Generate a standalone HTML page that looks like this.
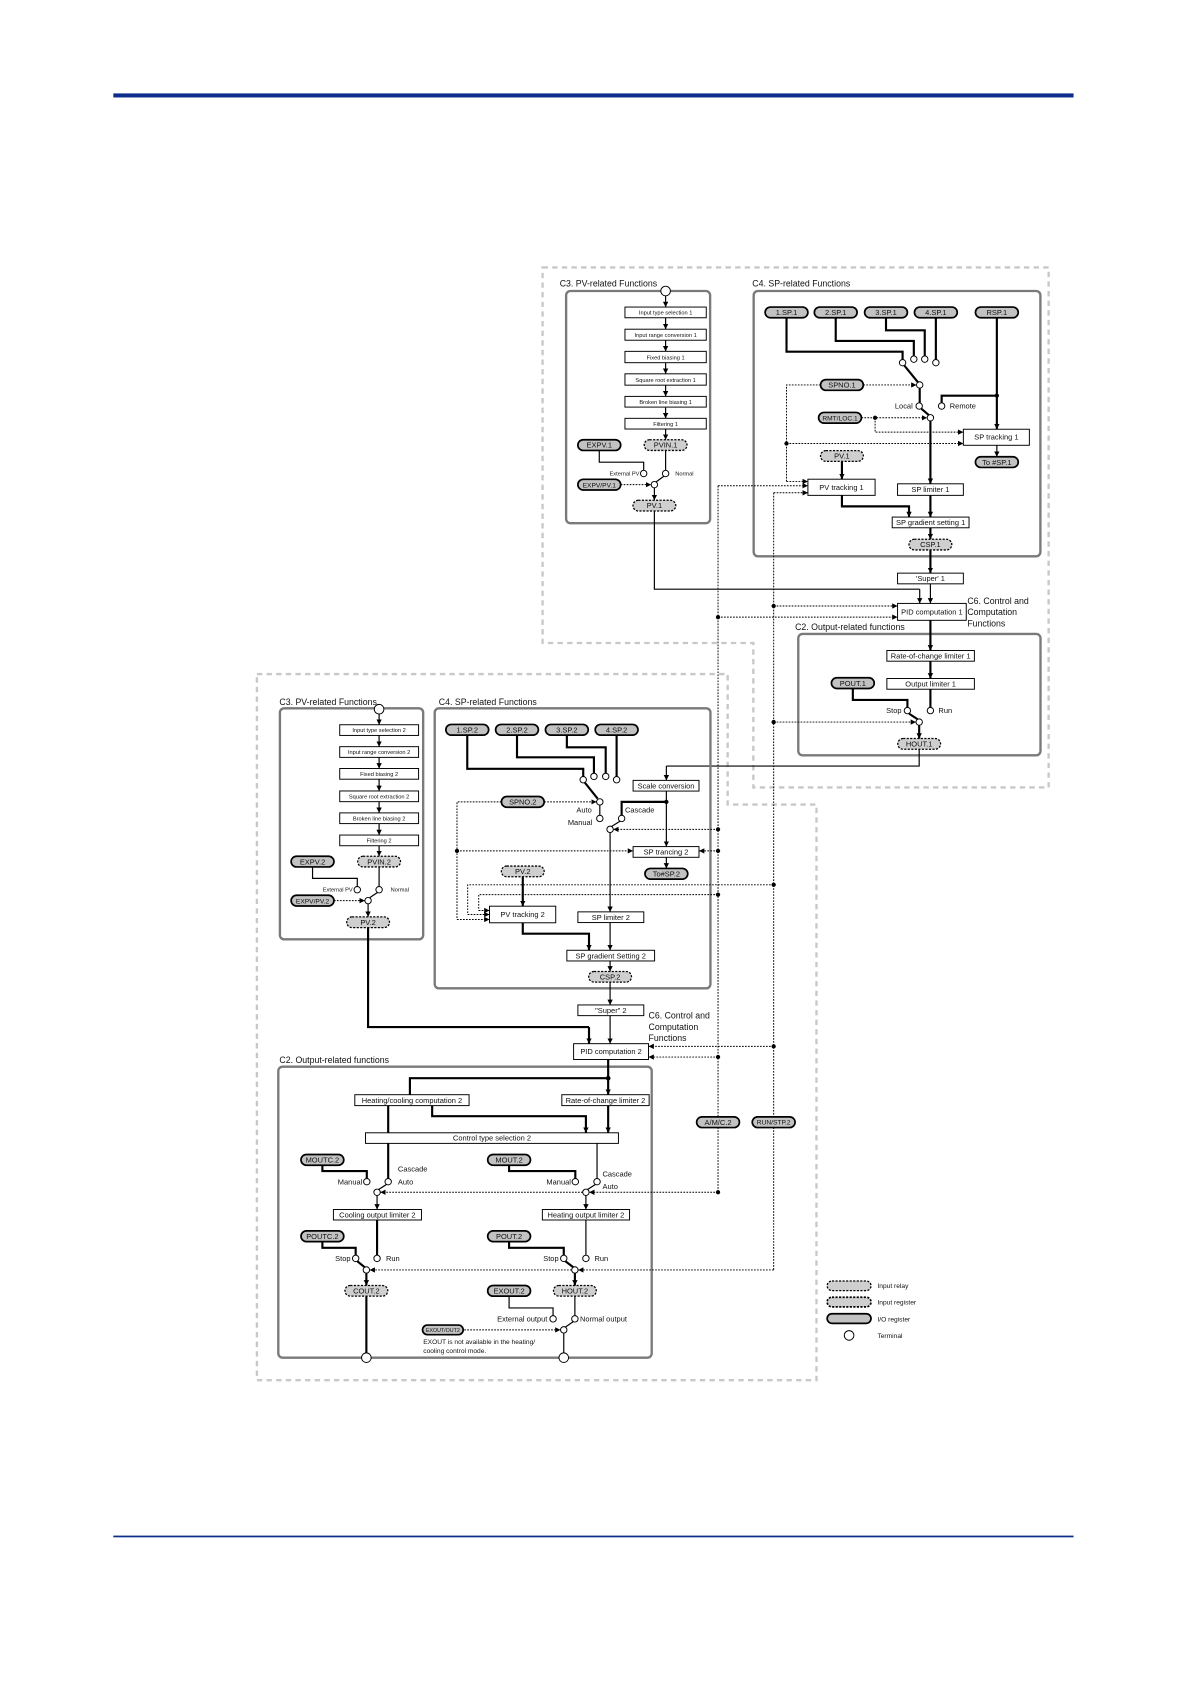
<!DOCTYPE html>
<html><head><meta charset="utf-8"><style>
html,body{margin:0;padding:0;background:#fff;}
svg{display:block;}
text{font-family:"Liberation Sans",sans-serif;fill:#111;}
.t{fill:none;stroke:#000;stroke-width:2;}
.n{fill:none;stroke:#000;stroke-width:1.1;}
.d{fill:none;stroke:#000;stroke-width:0.9;stroke-dasharray:1.6 1.2;}
.ar{marker-end:url(#a);}
.bx{fill:#fff;stroke:#000;stroke-width:0.9;}
.grp{fill:none;stroke:#7a7a7a;stroke-width:2.2;}
.out{fill:none;stroke:#c8c8c8;stroke-width:2.2;stroke-dasharray:5 4;}
.p{fill:#c2c2c2;stroke:#000;stroke-width:1.6;}
.pd{fill:#cfcfcf;stroke:#000;stroke-width:1.2;stroke-dasharray:2 1.3;}
.c{fill:#fff;stroke:#000;stroke-width:0.9;}
.s5{font-size:5.3px;}
.s6{font-size:6.2px;}
.s7{font-size:7px;}
.s8{font-size:8.2px;}
.m{text-anchor:middle;}
.e{text-anchor:end;}
</style></head><body>
<svg width="1190" height="1684" viewBox="0 0 1112 1574" xmlns="http://www.w3.org/2000/svg">
<defs>
<marker id="a" viewBox="0 0 10 10" refX="10" refY="5" markerWidth="5" markerHeight="5" markerUnits="userSpaceOnUse" orient="auto"><path d="M0,0 L10,5 L0,10z" fill="#000"/></marker>
</defs>
<rect x="105.8" y="87.3" width="897.5" height="3.8" fill="#0c2d8c"/>
<rect x="105.8" y="1435.3" width="897.5" height="1.6" fill="#0c2d8c"/>

<!-- outer dashed groups -->
<path class="out" d="M507,250 H980 V736 H704 V601 H507 Z"/>
<path class="out" d="M240,630 H680 V752 H763 V1290 H240 Z"/>

<!-- ===== TOP C3 ===== -->
<text class="s8" x="523" y="268">C3. PV-related Functions</text>
<rect class="grp" x="529" y="272" width="134.6" height="217" rx="4"/>
<g class="n ar">
<path d="M622,276.5V287"/><path d="M622,297V307.7"/><path d="M622,318V328.4"/><path d="M622,339V349.4"/><path d="M622,360V370.5"/><path d="M622,381V391"/><path d="M622,401V411"/>
</g>
<circle class="c" cx="622" cy="272" r="4.5"/>
<rect class="bx" x="584" y="287" width="76" height="10"/><text class="s5 m" x="622" y="294">Input type selection 1</text>
<rect class="bx" x="584" y="307.7" width="76" height="10.3"/><text class="s5 m" x="622" y="315">Input range conversion 1</text>
<rect class="bx" x="584" y="328.4" width="76" height="10.6"/><text class="s5 m" x="622" y="336">Fixed biasing 1</text>
<rect class="bx" x="584" y="349.4" width="76" height="10.6"/><text class="s5 m" x="622" y="357">Square root extraction 1</text>
<rect class="bx" x="584" y="370.5" width="76" height="10"/><text class="s5 m" x="622" y="377.5">Broken line biasing 1</text>
<rect class="bx" x="584" y="391" width="76" height="10"/><text class="s5 m" x="622" y="398">Filtering 1</text>
<path class="n" d="M622,421V439.6"/>
<path class="n" d="M560,421V432H601.5V439.6"/>
<path class="n" d="M613,450.5L620.5,445"/>
<path class="d ar" d="M580,453H608.5"/>
<path class="n ar" d="M611.5,456V467.6"/>
<path class="n" d="M611.5,477.6V550.7H859.5"/>
<path class="n ar" d="M859.5,550.7V564"/>
<rect class="pd" x="602" y="411" width="40" height="10" rx="5"/><text class="s7 m" x="622" y="418.5">PVIN.1</text>
<rect class="p" x="540" y="411" width="40" height="10" rx="5"/><text class="s7 m" x="560" y="418.5">EXPV.1</text>
<rect class="p" x="540" y="448" width="40" height="10" rx="5"/><text class="s6 m" x="560" y="455.5">EXPV/PV.1</text>
<rect class="pd" x="591.5" y="467.6" width="40" height="10" rx="5"/><text class="s7 m" x="611.5" y="475">PV.1</text>
<circle class="c" cx="601.5" cy="442.6" r="3"/><circle class="c" cx="622" cy="442.6" r="3"/><circle class="c" cx="611.5" cy="453" r="3"/>
<text class="s5 e" x="597.5" y="444.5">External PV</text>
<text class="s5" x="631" y="444.5">Normal</text>

<!-- ===== TOP C4 ===== -->
<text class="s8" x="703" y="268">C4. SP-related Functions</text>
<rect class="grp" x="704.3" y="272" width="268" height="248" rx="4"/>
<path class="t" d="M735,297V328.7H843.5V336"/>
<path class="t" d="M781,297V318.7H854V332.7"/>
<path class="t" d="M828,297V308.7H864.2V332.7"/>
<path class="t" d="M874.6,297V336"/>
<path class="t" d="M845,341.5L858,357.5"/>
<path class="d ar" d="M806.8,359.8H856.5"/>
<path class="d" d="M766.8,359.8H735V450"/>
<path class="d ar" d="M735,450H755"/>
<path class="t" d="M859.5,362.8V376.5"/>
<path class="t" d="M931.6,297V369.8H880V376.5"/>
<path class="t ar" d="M931.6,369.8V401.2"/>
<circle cx="931.6" cy="369.8" r="2"/>
<path class="t" d="M861,382L868,388"/>
<path class="d ar" d="M805,390.5H866.5"/>
<circle cx="817.8" cy="390.5" r="2"/>
<path class="d ar" d="M817.8,390.5V403.9H900.3"/>
<circle cx="735" cy="414.5" r="2"/>
<path class="d ar" d="M735,414.5H900.3"/>
<path class="n ar" d="M931.6,416.2V426.9"/>
<path class="t ar" d="M869.5,393.5V452.2"/>
<path class="t ar" d="M786.8,431.2V447.9"/>
<path class="d ar" d="M671,454H755"/>
<path class="d ar" d="M723,460.6H755"/>
<path class="t ar" d="M786.8,463V473.3H849.5V483.3"/>
<path class="t ar" d="M869.5,463V483.3"/>
<path class="t ar" d="M869.5,493.3V504"/>
<path class="t ar" d="M869.5,514V535.7"/>
<path class="n ar" d="M869.5,545.7V564"/>
<rect class="p" x="715" y="287" width="40" height="10" rx="5"/><text class="s7 m" x="735" y="294.5">1.SP.1</text>
<rect class="p" x="761" y="287" width="40" height="10" rx="5"/><text class="s7 m" x="781" y="294.5">2.SP.1</text>
<rect class="p" x="808" y="287" width="40" height="10" rx="5"/><text class="s7 m" x="828" y="294.5">3.SP.1</text>
<rect class="p" x="854.6" y="287" width="40" height="10" rx="5"/><text class="s7 m" x="874.6" y="294.5">4.SP.1</text>
<rect class="p" x="911.6" y="287" width="40" height="10" rx="5"/><text class="s7 m" x="931.6" y="294.5">RSP.1</text>
<circle class="c" cx="843.5" cy="339" r="3"/><circle class="c" cx="854" cy="335.7" r="3"/><circle class="c" cx="864.2" cy="335.7" r="3"/><circle class="c" cx="874.6" cy="339" r="3"/>
<circle class="c" cx="859.5" cy="359.8" r="3"/>
<rect class="p" x="766.8" y="354.8" width="40" height="10" rx="5"/><text class="s7 m" x="786.8" y="362.3">SPNO.1</text>
<circle class="c" cx="859" cy="379.5" r="3"/><circle class="c" cx="880" cy="379.5" r="3"/><circle class="c" cx="869.5" cy="390.5" r="3"/>
<text class="s7 e" x="853" y="382">Local</text>
<text class="s7" x="887.6" y="382">Remote</text>
<rect class="p" x="765" y="385.5" width="40" height="10" rx="5"/><text class="s6 m" x="785" y="393">RMT/LOC.1</text>
<rect class="bx" x="900.3" y="401.2" width="61.7" height="15"/><text class="s7 m" x="931.2" y="411">SP tracking 1</text>
<rect class="p" x="911.6" y="426.9" width="40" height="10" rx="5"/><text class="s7 m" x="931.6" y="434.4">To #SP.1</text>
<rect class="pd" x="766.8" y="421.2" width="40" height="10" rx="5"/><text class="s7 m" x="786.8" y="428.7">PV.1</text>
<rect class="bx" x="755" y="447.9" width="62.8" height="15.1"/><text class="s7 m" x="786.4" y="457.8">PV tracking 1</text>
<rect class="bx" x="838.8" y="452.2" width="61.5" height="10.8"/><text class="s7 m" x="869.5" y="460">SP limiter 1</text>
<rect class="bx" x="833.8" y="483.3" width="71.8" height="10"/><text class="s7 m" x="869.7" y="490.8">SP gradient setting 1</text>
<rect class="pd" x="849.5" y="504" width="40" height="10" rx="5"/><text class="s7 m" x="869.5" y="511.5">CSP.1</text>
<rect class="bx" x="838.8" y="535.7" width="61.5" height="10"/><text class="s7 m" x="869.5" y="543.2">'Super' 1</text>
<rect class="bx" x="838.8" y="564" width="64.2" height="15.8"/><text class="s7 m" x="870.9" y="574.3">PID computation 1</text>
<text class="s8" x="904" y="564.5">C6. Control and</text>
<text class="s8" x="904" y="575">Computation</text>
<text class="s8" x="904" y="585.5">Functions</text>
<circle cx="723" cy="566.4" r="2"/><path class="d ar" d="M723,566.4H838.8"/>
<circle cx="671" cy="576.8" r="2"/><path class="d ar" d="M671,576.8H838.8"/>

<!-- top C2 -->
<text class="s8" x="743" y="589">C2. Output-related functions</text>
<rect class="grp" x="746" y="592.5" width="226.4" height="113.5" rx="4"/>
<path class="t ar" d="M869.5,579.8V608"/>
<path class="t ar" d="M869.5,618V634.2"/>
<path class="t" d="M869.5,644.2V661.2"/>
<path class="t" d="M797,643.5V654.2H848V661.2"/>
<path class="t" d="M849.5,667L857.5,672.3"/>
<circle cx="723" cy="674.9" r="2"/><path class="d ar" d="M723,674.9H856"/>
<path class="t ar" d="M859,677.9V690.3"/>
<path class="n" d="M859,700.3V716H622.7"/>
<path class="n ar" d="M622.7,716V729.4"/>
<rect class="bx" x="828.8" y="608" width="81.8" height="10"/><text class="s7 m" x="869.7" y="615.5">Rate-of-change limiter 1</text>
<rect class="bx" x="828.8" y="634.2" width="81.8" height="10"/><text class="s7 m" x="869.7" y="641.7">Output limiter 1</text>
<rect class="p" x="777" y="633.5" width="40" height="10" rx="5"/><text class="s7 m" x="797" y="641">POUT.1</text>
<circle class="c" cx="848" cy="664.2" r="3"/><circle class="c" cx="869.5" cy="664.2" r="3"/><circle class="c" cx="859" cy="674.9" r="3"/>
<text class="s7 e" x="842.5" y="666.5">Stop</text>
<text class="s7" x="877" y="666.5">Run</text>
<rect class="pd" x="839" y="690.3" width="40" height="10" rx="5"/><text class="s7 m" x="859" y="697.8">HOUT.1</text>

<!-- ===== BOTTOM C3 ===== -->
<text class="s8" x="261" y="659">C3. PV-related Functions</text>
<rect class="grp" x="261.5" y="662" width="133.9" height="216" rx="4"/>
<g class="n ar">
<path d="M354.2,667.4V677.4"/><path d="M354.2,687.4V697.9"/><path d="M354.2,707.9V718.3"/><path d="M354.2,728.3V739.3"/><path d="M354.2,749.3V759.8"/><path d="M354.2,769.8V780.5"/><path d="M354.2,790.5V800.3"/>
</g>
<circle class="c" cx="354.2" cy="662.9" r="4.5"/>
<rect class="bx" x="317.4" y="677.4" width="73.7" height="10"/><text class="s5 m" x="354.2" y="684.4">Input type selection 2</text>
<rect class="bx" x="317.4" y="697.9" width="73.7" height="10"/><text class="s5 m" x="354.2" y="704.9">Input range conversion 2</text>
<rect class="bx" x="317.4" y="718.3" width="73.7" height="10"/><text class="s5 m" x="354.2" y="725.3">Fixed biasing 2</text>
<rect class="bx" x="317.4" y="739.3" width="73.7" height="10"/><text class="s5 m" x="354.2" y="746.3">Square root extraction 2</text>
<rect class="bx" x="317.4" y="759.8" width="73.7" height="10"/><text class="s5 m" x="354.2" y="766.8">Broken line biasing 2</text>
<rect class="bx" x="317.4" y="780.5" width="73.7" height="10"/><text class="s5 m" x="354.2" y="787.5">Filtering 2</text>
<path class="n" d="M354.2,810.3V828.6"/>
<path class="n" d="M292,810.3V821H333.8V828.6"/>
<path class="n" d="M345.5,839L352.5,834.3"/>
<path class="d ar" d="M312,841.8H340.9"/>
<path class="n ar" d="M343.9,844.8V857"/>
<path class="t" d="M343.9,867V960H550.4"/>
<path class="t ar" d="M550.4,960V975.5"/>
<rect class="p" x="272" y="800.3" width="40" height="10" rx="5"/><text class="s7 m" x="292" y="807.8">EXPV.2</text>
<rect class="pd" x="334.2" y="800.3" width="40" height="10" rx="5"/><text class="s7 m" x="354.2" y="807.8">PVIN.2</text>
<rect class="p" x="272" y="836.8" width="40" height="10" rx="5"/><text class="s6 m" x="292" y="844.3">EXPV/PV.2</text>
<rect class="pd" x="323.9" y="857" width="40" height="10" rx="5"/><text class="s7 m" x="343.9" y="864.5">PV.2</text>
<circle class="c" cx="333.8" cy="831.6" r="3"/><circle class="c" cx="354.2" cy="831.6" r="3"/><circle class="c" cx="343.9" cy="841.8" r="3"/>
<text class="s5 e" x="329.5" y="833.5">External PV</text>
<text class="s5" x="365" y="833.5">Normal</text>

<!-- ===== BOTTOM C4 ===== -->
<text class="s8" x="410" y="659">C4. SP-related Functions</text>
<rect class="grp" x="406.2" y="662" width="257.7" height="261.8" rx="4"/>
<path class="t" d="M436.6,687V718.6H545V725.8"/>
<path class="t" d="M483.1,687V707.8H555V722.7"/>
<path class="t" d="M529.7,687V698.5H566V722.7"/>
<path class="t" d="M576.2,687V725.8"/>
<path class="t" d="M546.5,731.5L558.5,746.5"/>
<path class="d ar" d="M508.5,749.5H557.5"/>
<path class="d" d="M468.5,749.5H427V859.4"/>
<path class="d ar" d="M427,859.4H457.4"/>
<path class="n" d="M560.5,752.5V762"/>
<path class="n" d="M571.5,772.5L579.5,767.5"/>
<path class="t" d="M580.9,762V749.5H622.7"/>
<circle cx="622.7" cy="749.5" r="2"/>
<path class="n ar" d="M622.7,739.4V791.3"/>
<circle cx="671" cy="775.2" r="2"/><path class="d ar" d="M671,775.2H573"/>
<path class="n ar" d="M622.7,801.3V811.7"/>
<circle cx="427" cy="795.3" r="2"/><path class="d ar" d="M427,795.3H591.6"/>
<circle cx="671" cy="795.3" r="2"/><path class="d ar" d="M671,795.3H653.2"/>
<path class="t ar" d="M488.5,819.5V847"/>
<circle cx="723" cy="827" r="2"/><path class="d" d="M723,827H437V854.8"/><path class="d ar" d="M437,854.8H457.4"/>
<circle cx="671" cy="836.2" r="2"/><path class="d" d="M671,836.2H447.3V851"/><path class="d ar" d="M447.3,851H457.4"/>
<path class="n ar" d="M570.1,778.2V852.3"/>
<path class="t ar" d="M488.5,862.5V872.7H550.4V888.2"/>
<path class="n ar" d="M570.1,862.3V888.2"/>
<path class="n ar" d="M570.1,898.2V908"/>
<path class="n ar" d="M570.1,918V939.3"/>
<path class="n ar" d="M570.1,949.3V975.5"/>
<rect class="p" x="416.6" y="677.1" width="40" height="10" rx="5"/><text class="s7 m" x="436.6" y="684.6">1.SP.2</text>
<rect class="p" x="463.1" y="677.1" width="40" height="10" rx="5"/><text class="s7 m" x="483.1" y="684.6">2.SP.2</text>
<rect class="p" x="509.7" y="677.1" width="40" height="10" rx="5"/><text class="s7 m" x="529.7" y="684.6">3.SP.2</text>
<rect class="p" x="556.2" y="677.1" width="40" height="10" rx="5"/><text class="s7 m" x="576.2" y="684.6">4.SP.2</text>
<circle class="c" cx="545" cy="728.8" r="3"/><circle class="c" cx="555" cy="725.7" r="3"/><circle class="c" cx="566" cy="725.7" r="3"/><circle class="c" cx="576.2" cy="728.8" r="3"/>
<circle class="c" cx="560.5" cy="749.5" r="3"/>
<rect class="p" x="468.5" y="744.5" width="40" height="10" rx="5"/><text class="s7 m" x="488.5" y="752">SPNO.2</text>
<text class="s7 e" x="553" y="759.5">Auto</text>
<circle class="c" cx="560.5" cy="765" r="3"/>
<text class="s7 e" x="553.5" y="771">Manual</text>
<circle class="c" cx="580.9" cy="765" r="3"/>
<text class="s7" x="584" y="759.5">Cascade</text>
<circle class="c" cx="570.1" cy="775.2" r="3"/>
<rect class="bx" x="591.6" y="729.4" width="61.6" height="10"/><text class="s7 m" x="622.4" y="736.9">Scale conversion</text>
<rect class="bx" x="591.6" y="791.3" width="61.6" height="10"/><text class="s7 m" x="622.4" y="798.8">SP trancing 2</text>
<rect class="p" x="602.7" y="811.7" width="40" height="10" rx="5"/><text class="s7 m" x="622.7" y="819.2">To#SP.2</text>
<rect class="pd" x="468.5" y="809.5" width="40" height="10" rx="5"/><text class="s7 m" x="488.5" y="817">PV.2</text>
<rect class="bx" x="457.4" y="847" width="61.9" height="15.5"/><text class="s7 m" x="488.3" y="857">PV tracking  2</text>
<rect class="bx" x="540" y="852.3" width="61.6" height="10"/><text class="s7 m" x="570.8" y="859.8">SP limiter 2</text>
<rect class="bx" x="529.7" y="888.2" width="82" height="10"/><text class="s7 m" x="570.7" y="895.7">SP gradient Setting 2</text>
<rect class="pd" x="550.1" y="908" width="40" height="10" rx="5"/><text class="s7 m" x="570.1" y="915.5">CSP.2</text>
<rect class="bx" x="540" y="939.3" width="61.6" height="10"/><text class="s7 m" x="570.8" y="946.8">"Super" 2</text>
<text class="s8" x="606" y="952">C6. Control and</text>
<text class="s8" x="606" y="962.5">Computation</text>
<text class="s8" x="606" y="973">Functions</text>
<rect class="bx" x="536" y="975.5" width="70" height="14.8"/><text class="s7 m" x="571" y="985.3">PID computation 2</text>
<circle cx="723" cy="978" r="2"/><path class="d ar" d="M723,978H606"/>
<circle cx="671" cy="988" r="2"/><path class="d ar" d="M671,988H606"/>

<!-- long dotted verticals -->
<path class="d" d="M671,454V1044"/>
<path class="d" d="M723,460.6V1044"/>

<!-- ===== BOTTOM C2 ===== -->
<text class="s8" x="261" y="993.5">C2. Output-related functions</text>
<rect class="grp" x="260" y="997" width="349" height="272" rx="4"/>
<path class="t ar" d="M568.3,990.3V1023.2"/>
<circle cx="568.3" cy="1007.8" r="2.2"/>
<path class="t" d="M568.3,1007.8H383V1023.2"/>
<path class="t" d="M362.7,1033.4V1058.8"/>
<path class="t ar" d="M403.8,1033.4V1043.3H547.5V1058.8"/>
<path class="t ar" d="M568.3,1033.4V1058.8"/>
<path class="t" d="M362.7,1068.7V1101.5"/>
<path class="t" d="M301.2,1089V1094.6H342.7V1101.5"/>
<path class="n" d="M353.8,1111.8L361.2,1107"/>
<path class="n ar" d="M352.3,1117.4V1130.5"/>
<path class="n" d="M557.9,1068.7V1101.5"/>
<path class="t" d="M475.7,1089V1094.6H537.6V1101.5"/>
<path class="n" d="M549,1111.8L556.5,1107"/>
<path class="d" d="M671,1053.6V1114.4"/>
<circle cx="671" cy="1114.4" r="2"/>
<path class="d ar" d="M671,1114.4H550.5"/>
<path class="d ar" d="M544.5,1114.4H355.3"/>
<path class="n ar" d="M547.5,1117.4V1130.5"/>
<path class="t" d="M352.3,1140.3V1173.2"/>
<path class="t" d="M301.2,1160.5V1166.3H332.3V1173.2"/>
<path class="t" d="M333.8,1178.8L340.8,1184.5"/>
<path class="t ar" d="M342.3,1190V1201.5"/>
<path class="n" d="M547.5,1140.3V1173.2"/>
<path class="t" d="M475.7,1160.5V1166.3H526.8V1173.2"/>
<path class="t" d="M528.3,1178.8L535.7,1184.5"/>
<path class="d" d="M723,1053.6V1187"/>
<path class="d ar" d="M723,1187H540.2"/>
<path class="d ar" d="M534.2,1187H345.3"/>
<path class="t ar" d="M537.2,1190V1201.5"/>
<path class="t" d="M342.3,1211.5V1264.5"/>
<path class="n" d="M475.7,1211.5V1222.5H516.8V1229.7"/>
<path class="n" d="M537.2,1211.5V1229.7"/>
<path class="n" d="M528.3,1240.4L535.7,1235.3"/>
<path class="d ar" d="M433.8,1243H523.8"/>
<path class="n" d="M526.8,1246V1264.5"/>
<rect class="bx" x="331.5" y="1023.2" width="106.8" height="10.2"/><text class="s7 m" x="384.9" y="1030.8">Heating/cooling computation 2</text>
<rect class="bx" x="525" y="1023.2" width="81.6" height="10.2"/><text class="s7 m" x="565.8" y="1030.8">Rate-of-change limiter 2</text>
<rect class="bx" x="341.5" y="1058.8" width="236.4" height="9.9"/><text class="s7 m" x="459.7" y="1066.2">Control type selection 2</text>
<rect class="p" x="281.2" y="1079.1" width="40" height="10" rx="5"/><text class="s7 m" x="301.2" y="1086.6">MOUTC.2</text>
<rect class="p" x="455.7" y="1079.1" width="40" height="10" rx="5"/><text class="s7 m" x="475.7" y="1086.6">MOUT.2</text>
<circle class="c" cx="362.7" cy="1104.5" r="3"/><circle class="c" cx="342.7" cy="1104.5" r="3"/><circle class="c" cx="352.3" cy="1114.4" r="3"/>
<text class="s7" x="371.8" y="1095">Cascade</text><text class="s7" x="371.8" y="1107">Auto</text><text class="s7 e" x="338.5" y="1107">Manual</text>
<circle class="c" cx="557.9" cy="1104.5" r="3"/><circle class="c" cx="537.6" cy="1104.5" r="3"/><circle class="c" cx="547.5" cy="1114.4" r="3"/>
<text class="s7" x="563" y="1099.5">Cascade</text><text class="s7" x="563" y="1111.5">Auto</text><text class="s7 e" x="533.5" y="1107">Manual</text>
<rect class="bx" x="311.5" y="1130.5" width="82.3" height="9.8"/><text class="s7 m" x="352.6" y="1137.9">Cooling output limiter 2</text>
<rect class="bx" x="506.8" y="1130.5" width="81.5" height="9.8"/><text class="s7 m" x="547.5" y="1137.9">Heating output limiter 2</text>
<rect class="p" x="281.2" y="1150.5" width="40" height="10" rx="5"/><text class="s7 m" x="301.2" y="1158">POUTC.2</text>
<rect class="p" x="455.7" y="1150.5" width="40" height="10" rx="5"/><text class="s7 m" x="475.7" y="1158">POUT.2</text>
<circle class="c" cx="332.3" cy="1176.2" r="3"/><circle class="c" cx="352.3" cy="1176.2" r="3"/><circle class="c" cx="342.3" cy="1187" r="3"/>
<text class="s7 e" x="327.5" y="1178.5">Stop</text><text class="s7" x="360.6" y="1178.5">Run</text>
<circle class="c" cx="526.8" cy="1176.2" r="3"/><circle class="c" cx="547.5" cy="1176.2" r="3"/><circle class="c" cx="537.2" cy="1187" r="3"/>
<text class="s7 e" x="522" y="1178.5">Stop</text><text class="s7" x="555.5" y="1178.5">Run</text>
<rect class="pd" x="322.3" y="1201.5" width="40" height="10" rx="5"/><text class="s7 m" x="342.3" y="1209">COUT.2</text>
<rect class="p" x="455.7" y="1201.5" width="40" height="10" rx="5"/><text class="s7 m" x="475.7" y="1209">EXOUT.2</text>
<rect class="pd" x="517.2" y="1201.5" width="40" height="10" rx="5"/><text class="s7 m" x="537.2" y="1209">HOUT.2</text>
<circle class="c" cx="516.8" cy="1232.7" r="3"/><circle class="c" cx="537.2" cy="1232.7" r="3"/><circle class="c" cx="526.8" cy="1243" r="3"/>
<text class="s7 e" x="511.5" y="1235">External output</text>
<text class="s7" x="542" y="1235">Normal output</text>
<rect class="p" x="394.8" y="1238.5" width="38" height="9" rx="4.5"/><text class="m" style="font-size:5px" x="413.8" y="1244.8">EXOUT/OUT2</text>
<text class="s6" x="395.5" y="1256">EXOUT is  not available in the heating/</text>
<text class="s6" x="395.5" y="1264.5">cooling control mode.</text>
<circle class="c" cx="342.3" cy="1269" r="4.5"/>
<circle class="c" cx="526.8" cy="1269" r="4.5"/>

<rect class="p" x="651" y="1043.9" width="40" height="10" rx="5"/><text class="s7 m" x="671" y="1051.4">A/M/C.2</text>
<rect class="p" x="703" y="1043.9" width="40" height="10" rx="5"/><text class="s6 m" x="723" y="1051.2">RUN/STP.2</text>

<!-- legend -->
<rect class="pd" x="773" y="1197.3" width="41" height="9" rx="4.5"/><text class="s6" x="820" y="1204">Input relay</text>
<rect class="pd" x="773" y="1212.5" width="41" height="9" rx="4.5" style="stroke-width:1.6"/><text class="s6" x="820" y="1219.5">Input register</text>
<rect class="p" x="773" y="1227.9" width="41" height="9" rx="4.5"/><text class="s6" x="820" y="1235">I/O register</text>
<circle class="c" cx="793.5" cy="1248.2" r="4.5"/><text class="s6" x="820" y="1250.5">Terminal</text>
</svg>
</body></html>
